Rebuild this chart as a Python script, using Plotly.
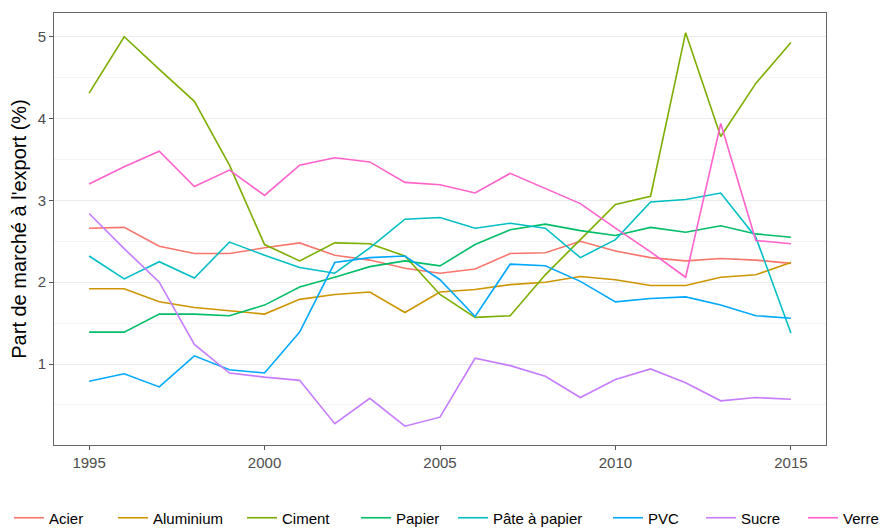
import plotly.graph_objects as go

years = list(range(1995, 2016))
series_names = ["Acier", "Aluminium", "Ciment", "Papier", "Pâte à papier", "PVC", "Sucre", "Verre"]
acier = [2.66, 2.67, 2.44, 2.35, 2.35, 2.42, 2.48, 2.33, 2.27, 2.17, 2.11, 2.16, 2.35, 2.36, 2.50, 2.38, 2.30, 2.26, 2.29, 2.27, 2.23]
aluminium = [1.92, 1.92, 1.76, 1.69, 1.65, 1.61, 1.79, 1.85, 1.88, 1.63, 1.88, 1.91, 1.97, 2.00, 2.07, 2.03, 1.96, 1.96, 2.06, 2.09, 2.24]
ciment = [4.31, 5.00, 4.60, 4.21, 3.43, 2.46, 2.26, 2.48, 2.47, 2.32, 1.85, 1.57, 1.59, 2.09, 2.52, 2.95, 3.05, 5.05, 3.78, 4.43, 4.93]
papier = [1.39, 1.39, 1.61, 1.61, 1.59, 1.72, 1.94, 2.06, 2.19, 2.26, 2.20, 2.46, 2.64, 2.71, 2.63, 2.57, 2.67, 2.61, 2.69, 2.59, 2.55]
pate_papier = [2.32, 2.04, 2.25, 2.05, 2.49, 2.33, 2.18, 2.11, 2.42, 2.77, 2.79, 2.66, 2.72, 2.66, 2.30, 2.52, 2.98, 3.01, 3.09, 2.55, 1.38]
pvc = [0.79, 0.88, 0.72, 1.10, 0.93, 0.89, 1.39, 2.24, 2.30, 2.32, 2.03, 1.58, 2.22, 2.20, 2.01, 1.76, 1.80, 1.82, 1.72, 1.59, 1.56]
sucre = [2.84, 2.41, 2.00, 1.24, 0.89, 0.84, 0.80, 0.27, 0.58, 0.24, 0.35, 1.07, 0.98, 0.85, 0.59, 0.81, 0.94, 0.77, 0.55, 0.59, 0.57]
verre = [3.20, 3.41, 3.60, 3.17, 3.37, 3.06, 3.43, 3.52, 3.47, 3.22, 3.19, 3.09, 3.33, 3.14, 2.96, 2.66, 2.37, 2.06, 3.94, 2.51, 2.47]
series_values = [acier, aluminium, ciment, papier, pate_papier, pvc, sucre, verre]

x_tick_vals = [1995, 2000, 2005, 2010, 2015]
y_tick_vals = [1, 2, 3, 4, 5]
y_title = "Part de marché à l'export (%)"

colors = ["#F8766D", "#CD9600", "#7CAE00", "#00BE67", "#00BFC4", "#00A9FF", "#C77CFF", "#FF61CC"]

# The page body has an 8px default margin; the figure is sized to fit the window.
PAGE_OFF = 8
W, H = 895 - PAGE_OFF, 528 - PAGE_OFF
legend_left_px = [1, 105, 234, 348, 445, 600, 693, 795]
FONT = "Liberation Sans, Arial, sans-serif"

fig = go.Figure()
for i, (name, vals) in enumerate(zip(series_names, series_values)):
    fig.add_trace(go.Scatter(
        x=years, y=vals, mode="lines", name=name,
        line=dict(color=colors[i], width=1.6),
        legend=f"legend{i+2}",
    ))

layout = dict(
    width=W, height=H,
    margin=dict(l=54 - PAGE_OFF, r=69, t=13 - PAGE_OFF, b=83, autoexpand=False),
    paper_bgcolor="white", plot_bgcolor="white",
    font=dict(family=FONT, size=15, color="#000000"),
    xaxis=dict(
        range=[1994, 2016], tickvals=x_tick_vals, showgrid=False, zeroline=False,
        ticks="outside", ticklen=4, tickcolor="#555555", tickwidth=1,
        tickfont=dict(size=15, color="#4D4D4D"),
        showline=True, mirror=True, linecolor="#666666", linewidth=1,
    ),
    yaxis=dict(
        range=[0.01, 5.29], tickvals=y_tick_vals, showgrid=True, gridcolor="#EBEBEB", gridwidth=1,
        zeroline=False, ticks="outside", ticklen=4, tickcolor="#555555", tickwidth=1,
        tickfont=dict(size=15, color="#4D4D4D"),
        showline=True, mirror=True, linecolor="#666666", linewidth=1,
        minor=dict(tickvals=[0.5, 1.5, 2.5, 3.5, 4.5], showgrid=True, gridcolor="#F4F4F4", gridwidth=1, ticks=""),
        title=dict(text=y_title, font=dict(size=20, color="#000000"), standoff=7),
        automargin=False,
    ),
    hovermode=False,
)
for i in range(len(series_names)):
    layout[f"legend{i+2}"] = dict(
        xref="container", yref="container",
        x=legend_left_px[i] / W, xanchor="left",
        y=1 - (518 - PAGE_OFF) / H, yanchor="middle",
        orientation="h", bgcolor="rgba(0,0,0,0)", borderwidth=0,
        font=dict(size=15, color="#000000", family=FONT),
    )
fig.update_layout(**layout)
fig.write_html("out.html")
